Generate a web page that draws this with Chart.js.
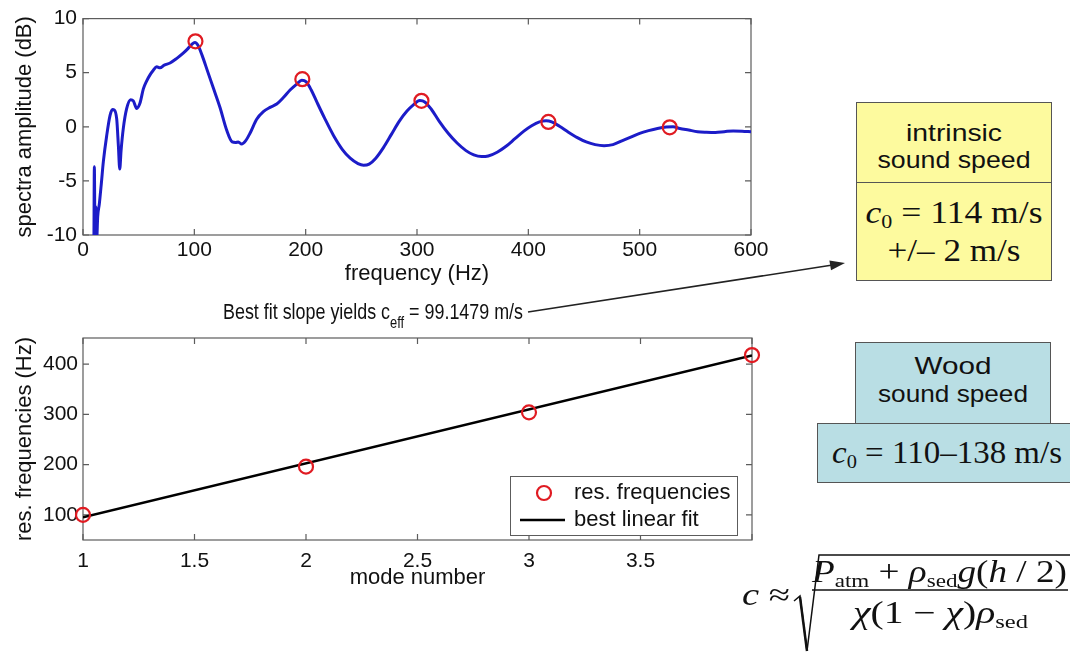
<!DOCTYPE html>
<html>
<head>
<meta charset="utf-8">
<script src="https://cdn.jsdelivr.net/npm/chart.js@4.4.1/dist/chart.umd.min.js"></script>
<style>
  body { margin: 0; background: #fff; }
  #page { position: relative; width: 1070px; height: 653px; overflow: hidden; }
  .wrap { position: absolute; left: 0; }
  .txt { position: absolute; white-space: nowrap; color: #111; line-height: 1; }
  .hv { font-family: "Liberation Sans", Arial, Helvetica, sans-serif; }
  .tm { font-family: "Liberation Serif", "Times New Roman", serif; }
  .mid { transform-origin: center; }
  .lft { transform-origin: left; }
  .sub { font-size: 0.62em; position: relative; top: 0.28em; }
  .box { position: absolute; border: 1.5px solid #555; box-sizing: border-box; }
</style>
</head>
<body>
<div id="page">
  <div class="wrap" style="top:0;width:780px;height:290px"><canvas id="spectrum"></canvas></div>
  <div class="wrap" style="top:300px;width:780px;height:300px"><canvas id="modes"></canvas></div>

  <div class="box" style="left:856px;top:102px;width:196px;height:179px;background:#fdfa9e"></div>
  <div class="box" style="left:856px;top:182px;width:196px;height:1.5px;border-width:1px 0 0 0"></div>
  <div class="box" style="left:855px;top:342px;width:196px;height:83px;background:#b9dee4"></div>
  <div class="box" style="left:817px;top:423px;width:270px;height:60px;background:#b9dee4"></div>

  <div class="txt hv mid" data-c="954" data-w="96" style="top:121px;font-size:24px">intrinsic</div>
  <div class="txt hv mid" data-c="954" data-w="153" style="top:148px;font-size:24px">sound speed</div>
  <div class="txt tm mid" data-c="954" data-w="177" style="top:197px;font-size:31px"><i>c</i><span class="sub">0</span> = 114 m/s</div>
  <div class="txt tm mid" data-c="954" data-w="133" style="top:235px;font-size:31px">+/– 2 m/s</div>
  <div class="txt hv mid" data-c="953" data-w="77" style="top:354px;font-size:24px">Wood</div>
  <div class="txt hv mid" data-c="953" data-w="150" style="top:382px;font-size:24px">sound speed</div>
  <div class="txt tm mid" data-c="947" data-w="230" style="top:437px;font-size:31px"><i>c</i><span class="sub">0</span> = 110–138 m/s</div>

  <div class="txt hv lft" data-l="223" data-w="300" style="top:301px;font-size:22px">Best fit slope yields c<span style="font-size:0.72em;position:relative;top:0.55em">eff</span> = 99.1479 m/s</div>

  <div class="txt tm lft" data-l="742" data-w="48" style="top:579px;font-size:31px"><i>c</i> ≈</div>
  <div class="txt tm lft" data-l="812" data-w="255" style="top:556px;font-size:31px"><i>P</i><span class="sub">atm</span> + <i>ρ</i><span class="sub">sed</span><i>g</i>(<i>h</i> / 2)</div>
  <div class="txt tm lft" data-l="853" data-w="175" style="top:597px;font-size:31px"><i>χ</i>(1 − <i>χ</i>)<i>ρ</i><span class="sub">sed</span></div>

  <svg width="1070" height="653" style="position:absolute;left:0;top:0">
    <line x1="528" y1="312" x2="831" y2="265.3" stroke="#222" stroke-width="1.5"/>
    <polygon points="845,263 829.4,260.4 831,270.2" fill="#222"/>
    <polyline points="794,601 800,596 807,651 819,555 1070,555" fill="none" stroke="#111" stroke-width="1.5"/>
    <line x1="800" y1="597" x2="807" y2="651" stroke="#111" stroke-width="2.5"/>
    <line x1="812" y1="590" x2="1068" y2="590" stroke="#111" stroke-width="1.5"/>
  </svg>
</div>

<script>
// spectrum (top panel)
const specFreq = [9.8, 10.2, 10.8, 11.6, 12.3, 13.2, 14.7, 16.5, 18.3, 21.3, 24.3, 26.5, 28.2, 30.3, 31.8, 33.0, 34.2, 36.2, 39.2, 42.8,
  45.2, 48.2, 51.2, 54.2, 57, 60.2, 63, 66.2, 69.2, 73, 78.2, 84, 90, 94, 97.5, 100.5, 103.5, 107, 112, 117,
  123, 129, 134, 137, 139.5, 142.5, 146, 150, 156, 162, 168, 174, 180, 186, 192, 196.5, 200.5, 205, 210, 217,
  225, 233, 240, 247, 252, 257, 263, 270, 277, 284, 291, 297, 302.5, 307, 313, 320, 328, 336, 344, 351,
  358, 364, 372, 380, 388, 396, 403, 410, 416, 421, 428, 436, 444, 452, 460, 468, 476, 484, 492, 500,
  508, 516, 524, 530, 536, 544, 552, 560, 568, 576, 584, 592, 600]
const specAmp = [-10.8, -3.7, -10.6, -7.4, -10.4, -8.3, -7.1, -5.2, -3.2, -0.8, 1.06, 1.6, 1.55, 0.7, -1.8, -3.9, -2.2, -0.15, 1.67, 2.5,
  2.4, 1.7, 2.2, 3.5, 4.2, 4.8, 5.2, 5.55, 5.45, 5.7, 5.9, 6.3, 6.8, 7.2, 7.6, 7.8, 7.5, 6.6, 5.1, 3.6,
  1.8, -0.3, -1.4, -1.45, -1.4, -1.6, -1.3, -0.6, 0.7, 1.4, 1.8, 2.1, 2.7, 3.4, 3.95, 4.3, 4.15, 3.4, 2.3, 0.8,
  -0.8, -2.1, -2.9, -3.4, -3.55, -3.45, -2.9, -1.9, -0.7, 0.5, 1.45, 2.05, 2.42, 2.3, 1.6, 0.5, -0.6, -1.5, -2.2, -2.6,
  -2.75, -2.7, -2.35, -1.8, -1.1, -0.4, 0.1, 0.45, 0.55, 0.45, 0.05, -0.5, -1.0, -1.4, -1.65, -1.75, -1.65, -1.3, -0.95, -0.6,
  -0.35, -0.15, -0.02, 0.0, -0.15, -0.3, -0.45, -0.5, -0.52, -0.45, -0.38, -0.4, -0.45]
const peakFreq = [101, 197, 304, 418, 527]
const peakAmp = [7.9, 4.4, 2.4, 0.45, -0.05]

// resonance vs mode number (bottom panel)
const modeNum = [1, 2, 3, 4]
const resFreq = [100, 196, 304, 418]
const fitMode = [1, 4]
const fitFreq = [95, 417]

// tick labels
const freqTicks = [0, 100, 200, 300, 400, 500, 600]
const ampTicks = [-10, -5, 0, 5, 10]
const modeTicks = [1, 1.5, 2, 2.5, 3, 3.5, 4]
const resTicks = [100, 200, 300, 400]

const RED = "#e01b22"
const BLUE = "#1c1cc8"
const FONT = '"Liberation Sans", Arial, Helvetica, sans-serif'

Chart.defaults.font.family = FONT
Chart.defaults.color = "#111"

const xy = (xs, ys) => xs.map((v, i) => ({ x: v, y: ys[i] }))
const fixedTicks = (list) => (scale) => { scale.ticks = list.map(v => ({ value: v })) }

// matlab style box with inward ticks on all four sides
const matlabAxes = {
  id: "matlabAxes",
  beforeDatasetsDraw(chart) {
    const { ctx, chartArea: a, scales: { x, y } } = chart
    const len = 6
    ctx.save()
    ctx.strokeStyle = "#5c5c5c"
    ctx.lineWidth = 1.2
    ctx.strokeRect(a.left, a.top, a.right - a.left, a.bottom - a.top)
    ctx.beginPath()
    x.ticks.forEach(t => {
      const px = x.getPixelForValue(t.value)
      ctx.moveTo(px, a.bottom); ctx.lineTo(px, a.bottom - len)
      ctx.moveTo(px, a.top); ctx.lineTo(px, a.top + len)
    })
    y.ticks.forEach(t => {
      const py = y.getPixelForValue(t.value)
      ctx.moveTo(a.left, py); ctx.lineTo(a.left + len, py)
      ctx.moveTo(a.right, py); ctx.lineTo(a.right - len, py)
    })
    ctx.stroke()
    ctx.restore()
  }
}

// legend box inside the lower right corner of the plot
const boxLegend = {
  id: "boxLegend",
  afterDraw(chart) {
    const { ctx, chartArea: a } = chart
    const w = 227, h = 59
    const l = a.right - 15 - w, t = a.bottom - 5 - h
    const [pts, fit] = chart.data.datasets
    ctx.save()
    ctx.fillStyle = "#fff"
    ctx.fillRect(l, t, w, h)
    ctx.strokeStyle = "#5c5c5c"
    ctx.lineWidth = 1
    ctx.strokeRect(l + 0.5, t + 0.5, w, h)
    ctx.beginPath()
    ctx.arc(l + 34, t + 17, 7, 0, 2 * Math.PI)
    ctx.strokeStyle = pts.borderColor
    ctx.lineWidth = pts.pointBorderWidth
    ctx.stroke()
    ctx.beginPath()
    ctx.moveTo(l + 10, t + 44); ctx.lineTo(l + 55, t + 44)
    ctx.strokeStyle = fit.borderColor
    ctx.lineWidth = fit.borderWidth
    ctx.stroke()
    ctx.font = "22px " + FONT
    ctx.fillStyle = "#111"
    ctx.textBaseline = "middle"
    ctx.fillText(pts.label, l + 64, t + 17)
    ctx.fillText(fit.label, l + 64, t + 44)
    ctx.restore()
  }
}

const axis = (opts) => ({
  type: "linear",
  grid: { display: false, drawTicks: false },
  border: { display: false },
  ...opts,
})

new Chart(document.getElementById("spectrum"), {
  type: "scatter",
  data: {
    datasets: [
      { label: "peaks", data: xy(peakFreq, peakAmp), borderColor: RED, backgroundColor: "rgba(0,0,0,0)",
        pointRadius: 7, pointBorderWidth: 2.2, clip: false },
      { label: "spectrum", data: xy(specFreq, specAmp), showLine: true, borderColor: BLUE, borderWidth: 3,
        pointRadius: 0, cubicInterpolationMode: "monotone", clip: 0 },
    ],
  },
  options: {
    responsive: true,
    maintainAspectRatio: false,
    animation: false,
    layout: { padding: { top: 15, right: 29, left: 0, bottom: 0 } },
    plugins: { legend: { display: false }, tooltip: { enabled: false } },
    scales: {
      x: axis({
        min: 0, max: 600,
        afterBuildTicks: fixedTicks(freqTicks),
        afterFit: s => { s.height = 55 },
        ticks: { font: { size: 21 }, padding: 3, maxRotation: 0, autoSkip: false },
        title: { display: true, text: "frequency (Hz)", font: { size: 22 }, padding: { top: 0, bottom: 3 } },
      }),
      y: axis({
        min: -10, max: 10,
        afterBuildTicks: fixedTicks(ampTicks),
        afterFit: s => { s.width = 83 },
        ticks: { font: { size: 21 }, padding: 6 },
        title: { display: true, text: "spectra amplitude (dB)", font: { size: 22 }, padding: { top: 12, bottom: 0 } },
      }),
    },
  },
  plugins: [matlabAxes],
})

new Chart(document.getElementById("modes"), {
  type: "scatter",
  data: {
    datasets: [
      { label: "res. frequencies", data: xy(modeNum, resFreq), borderColor: RED, backgroundColor: "rgba(0,0,0,0)",
        pointRadius: 7, pointBorderWidth: 2.2, clip: false },
      { label: "best linear fit", data: xy(fitMode, fitFreq), showLine: true, borderColor: "#000", borderWidth: 2.5,
        pointRadius: 0 },
    ],
  },
  options: {
    responsive: true,
    maintainAspectRatio: false,
    animation: false,
    layout: { padding: { top: 38, right: 28, left: 0, bottom: 0 } },
    plugins: { legend: { display: false }, tooltip: { enabled: false } },
    scales: {
      x: axis({
        min: 1, max: 4,
        afterBuildTicks: fixedTicks(modeTicks),
        afterFit: s => { s.height = 60 },
        ticks: { font: { size: 21 }, padding: 9, maxRotation: 0, autoSkip: false, callback: v => (v === 4 ? "" : v) },
        title: { display: true, text: "mode number", font: { size: 22 }, padding: { top: 0, bottom: 9 } },
      }),
      y: axis({
        min: 50, max: 452,
        afterBuildTicks: fixedTicks(resTicks),
        afterFit: s => { s.width = 83 },
        ticks: { font: { size: 21 }, padding: 5 },
        title: { display: true, text: "res. frequencies (Hz)", font: { size: 22 }, padding: { top: 12, bottom: 0 } },
      }),
    },
  },
  plugins: [matlabAxes, boxLegend],
})

// squeeze or stretch the annotation lines to the widths they have in the picture
document.querySelectorAll(".txt").forEach(el => {
  const w = el.getBoundingClientRect().width
  const k = Number(el.dataset.w) / w
  if (el.dataset.c) {
    el.style.left = el.dataset.c + "px"
    el.style.transform = `translateX(-50%) scaleX(${k})`
  } else {
    el.style.left = el.dataset.l + "px"
    el.style.transform = `scaleX(${k})`
  }
})
</script>
</body>
</html>
